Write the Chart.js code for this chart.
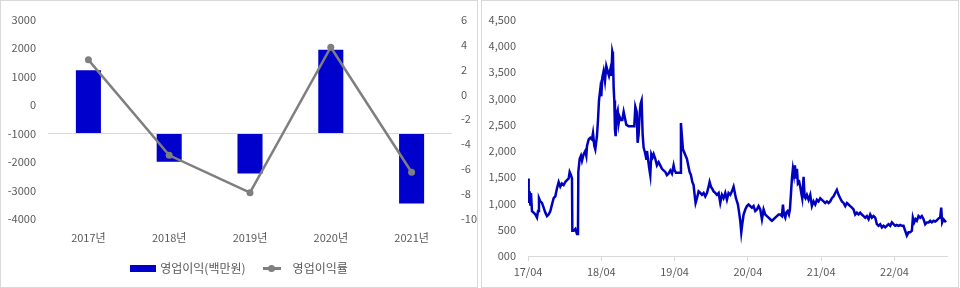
<!DOCTYPE html>
<html>
<head>
<meta charset="utf-8">
<script src="https://cdn.jsdelivr.net/npm/chart.js@4.4.1/dist/chart.umd.min.js"></script>
<style>
  body { margin: 0; background: #fff; width: 960px; height: 288px; overflow: hidden; font-family: 'Noto Sans CJK KR', sans-serif; }
  .panel { position: absolute; top: 0; width: 478px; height: 288px; box-sizing: border-box; border: 1px solid #d9d9d9; }
  .panel canvas { position: absolute; left: 0; top: 0; }
  #leftPanel { left: 0; }
  #rightPanel { left: 481px; }
  .legend { position: absolute; left: 0; top: 259px; width: 476px; display: flex; justify-content: center; align-items: center; font-size: 12px; color: #595959; line-height: 16px; }
  .legend .box { display: inline-block; width: 26px; height: 7px; background: #0000cc; margin-right: 4px; }
  .legend .ln { display: inline-block; position: relative; width: 18px; height: 8px; margin: 0 12px 0 17px; }
  .legend .ln::before { content: ''; position: absolute; left: 0; right: 0; top: 3px; height: 2.5px; background: #7f7f7f; }
  .legend .ln::after { content: ''; position: absolute; left: 5px; top: 0.5px; width: 7px; height: 7px; border-radius: 50%; background: #7f7f7f; }
</style>
</head>
<body>
<div class="panel" id="leftPanel">
  <canvas id="profitChart" width="476" height="286"></canvas>
  <div class="legend"><span class="box"></span><span>영업이익(백만원)</span><span class="ln"></span><span>영업이익률</span></div>
</div>
<div class="panel" id="rightPanel">
  <canvas id="priceChart" width="476" height="286"></canvas>
</div>
<script>
// left: operating profit (bars, from a -1000 baseline) and margin % (line)
const years = ['2017년', '2018년', '2019년', '2020년', '2021년'];
const operatingProfit = [1220, -1990, -2400, 1940, -3460];
const marginPct = [2.77, -4.89, -7.89, 3.78, -6.25];

// right: share price, x in months since 2017/04
const priceMonths = [
  0, 0.11, 0.27, 0.38, 0.49, 0.65, 0.93, 1.20, 1.47, 1.64, 1.80, 2.02, 2.29, 2.56, 2.84, 3.11, 3.38, 3.66, 3.93, 4.20,
  4.47, 4.75, 5.02, 5.29, 5.56, 5.84, 6.11, 6.38, 6.66, 6.82, 7.04, 7.20, 7.26, 7.47, 7.75, 8.02, 8.18, 8.24, 8.46, 8.67,
  8.84, 9.11, 9.38, 9.55, 9.66, 9.93, 10.20, 10.47, 10.64, 10.86, 11.02, 11.29, 11.46, 11.62, 11.84, 12.00, 12.17, 12.38, 12.60, 12.82,
  13.04, 13.26, 13.48, 13.64, 13.80, 13.91, 14.02, 14.13, 14.24, 14.35, 14.51, 14.68, 14.84, 15.00, 15.22, 15.44, 15.66, 15.88, 16.09, 16.48,
  17.02, 17.40, 17.57, 17.79, 17.95, 18.11, 18.28, 18.44, 18.60, 18.77, 18.93, 19.15, 19.37, 19.48, 19.64, 19.86, 20.02, 20.19, 20.40, 20.57,
  20.84, 21.11, 21.39, 21.66, 21.93, 22.20, 22.48, 22.75, 23.02, 23.30, 23.57, 23.84, 24.00, 24.22, 24.66, 24.93, 25.04, 25.20, 25.37, 25.59,
  25.80, 26.02, 26.24, 26.46, 26.68, 26.90, 27.11, 27.28, 27.44, 27.66, 27.93, 28.21, 28.48, 28.75, 29.02, 29.30, 29.57, 29.73, 29.95, 30.11,
  30.39, 30.66, 30.93, 31.21, 31.48, 31.75, 32.02, 32.30, 32.57, 32.84, 33.12, 33.39, 33.66, 33.82, 34.04, 34.21, 34.37, 34.53, 34.75, 34.92,
  35.08, 35.30, 35.57, 35.84, 36.12, 36.39, 36.66, 36.93, 37.21, 37.48, 37.75, 38.03, 38.30, 38.57, 38.84, 39.12, 39.39, 39.66, 39.93, 40.21,
  40.48, 40.75, 41.03, 41.30, 41.57, 41.74, 41.90, 42.12, 42.28, 42.50, 42.72, 42.88, 43.04, 43.21, 43.37, 43.54, 43.70, 43.86, 44.03, 44.19,
  44.41, 44.57, 44.74, 44.90, 45.12, 45.28, 45.44, 45.66, 45.94, 46.21, 46.48, 46.75, 47.03, 47.30, 47.57, 47.85, 48.12, 48.39, 48.66, 48.94,
  49.21, 49.48, 49.75, 50.03, 50.30, 50.57, 50.85, 51.12, 51.39, 51.66, 51.94, 52.21, 52.48, 52.76, 53.03, 53.30, 53.57, 53.85, 54.12, 54.39,
  54.66, 54.94, 55.21, 55.48, 55.76, 56.03, 56.30, 56.57, 56.85, 57.12, 57.39, 57.67, 57.94, 58.21, 58.48, 58.76, 59.03, 59.30, 59.57, 59.85,
  60.12, 60.39, 60.67, 60.94, 61.21, 61.48, 61.76, 62.03, 62.30, 62.57, 62.85, 63.01, 63.23, 63.45, 63.66, 63.94, 64.21, 64.48, 64.76, 65.03,
  65.30, 65.58, 65.85, 66.12, 66.39, 66.67, 66.94, 67.21, 67.48, 67.65, 67.81, 68.03, 68.25, 68.41,
];
const prices = [
  1475, 1010, 1230, 980, 1200, 855, 825, 790, 730, 855, 1100, 1040, 1010, 920, 825, 760, 790, 855, 980, 1100,
  1135, 1290, 1410, 1320, 1380, 1350, 1410, 1445, 1475, 1600, 1540, 1475, 480, 480, 515, 420, 420, 1600, 1850, 1910,
  1815, 1940, 2000, 1910, 2095, 2220, 2250, 2220, 2340, 2095, 2030, 2280, 2590, 2960, 3180, 3040, 3400, 3520, 3335, 3615,
  3520, 3430, 3550, 3430, 3890, 3830, 3210, 2960, 2400, 2280, 2710, 2775, 2530, 2650, 2590, 2590, 2745, 2620, 2500, 2470,
  2470, 2470, 2840, 2745, 2155, 2310, 2710, 2900, 2960, 2310, 2065, 1970, 1850, 2000, 1850, 1660, 1540, 1940, 1880, 1940,
  1850, 1725, 1785, 1725, 1660, 1630, 1600, 1540, 1570, 1630, 1570, 1725, 1630, 1585, 1585, 1585, 2530, 2280, 2030, 1970,
  1910, 1850, 1725, 1600, 1540, 1410, 1350, 1165, 1010, 1100, 1230, 1200, 1165, 1200, 1135, 1200, 1320, 1410, 1320, 1290,
  1230, 1200, 1165, 1200, 1010, 1165, 1100, 1200, 1070, 1200, 1165, 1230, 1320, 1230, 1100, 1040, 980, 855, 670, 450,
  605, 790, 885, 950, 980, 950, 920, 950, 855, 885, 950, 885, 700, 885, 790, 760, 730, 700, 670, 700,
  730, 760, 790, 790, 760, 980, 790, 730, 825, 855, 790, 885, 1165, 1475, 1660, 1540, 1725, 1475, 1660, 1380,
  1410, 1320, 1200, 1100, 1505, 1135, 1100, 1165, 1070, 1165, 950, 1040, 980, 1070, 1040, 1100, 1070, 1040, 1010, 1040,
  1010, 1040, 1100, 1135, 1200, 1260, 1165, 1100, 1040, 1010, 950, 1010, 980, 950, 920, 885, 790, 825, 790, 825,
  790, 760, 730, 760, 700, 790, 730, 760, 730, 605, 575, 605, 545, 575, 545, 575, 605, 575, 640, 605,
  575, 590, 575, 590, 575, 575, 480, 390, 450, 450, 480, 730, 640, 700, 670, 760, 730, 760, 700, 605,
  640, 640, 670, 640, 670, 655, 680, 715, 730, 920, 640, 700, 670, 640,
];
const priceTicks = [0, 12, 24, 36, 48, 60];

const TEXT = '#595959';
const AXIS = '#d9d9d9';
const FONT = { family: "'Noto Sans CJK KR', sans-serif", size: 11 };

new Chart(document.getElementById('profitChart'), {
  data: {
    labels: years,
    datasets: [
      {
        type: 'line', label: '영업이익률', data: marginPct, yAxisID: 'y1', order: 0,
        borderColor: '#7f7f7f', backgroundColor: '#7f7f7f', borderWidth: 2.5,
        pointRadius: 3.5, pointBackgroundColor: '#7f7f7f', pointBorderWidth: 0, tension: 0,
      },
      {
        type: 'bar', label: '영업이익(백만원)', data: operatingProfit, yAxisID: 'y', order: 1,
        base: -1000, backgroundColor: '#0000cc', categoryPercentage: 1, barPercentage: 0.31,
      },
    ],
  },
  options: {
    responsive: false,
    animation: false,
    layout: { padding: { top: 13, right: 0, bottom: 38, left: 0 } },
    plugins: { legend: { display: false }, tooltip: { enabled: false } },
    scales: {
      x: {
        grid: { display: false, drawTicks: false }, border: { display: false },
        ticks: { font: FONT, color: TEXT, padding: 12, maxRotation: 0 },
        afterFit: s => { s.height = 30; },
      },
      y: {
        position: 'left', min: -4000, max: 3000,
        ticks: { stepSize: 1000, font: FONT, color: TEXT, padding: 12, callback: v => String(v) },
        grid: { drawTicks: false, color: c => (c.tick && c.tick.value === -1000 ? AXIS : 'rgba(0,0,0,0)') },
        border: { display: false },
        afterFit: s => { s.width = 47; },
      },
      y1: {
        position: 'right', min: -10, max: 6,
        ticks: { stepSize: 2, font: FONT, color: TEXT, padding: 9, callback: v => String(v) },
        grid: { display: false, drawTicks: false }, border: { display: false },
        afterFit: s => { s.width = 25; },
      },
    },
  },
});

new Chart(document.getElementById('priceChart'), {
  type: 'line',
  data: {
    datasets: [{
      label: 'price',
      data: priceMonths.map((m, i) => ({ x: m, y: prices[i] })),
      borderColor: '#0000bf', borderWidth: 2.5, pointRadius: 0, tension: 0,
    }],
  },
  options: {
    responsive: false,
    animation: false,
    layout: { padding: { top: 13, right: 11, bottom: 0, left: 0 } },
    plugins: { legend: { display: false }, tooltip: { enabled: false } },
    scales: {
      x: {
        type: 'linear', min: 0, max: 68.6,
        afterBuildTicks: s => { s.ticks = priceTicks.map(v => ({ value: v })); },
        ticks: { font: FONT, color: TEXT, padding: 4, maxRotation: 0, autoSkip: false,
                 callback: v => `${17 + v / 12}/04` },
        grid: { drawOnChartArea: false, tickLength: 5, color: AXIS },
        border: { color: AXIS },
        afterFit: s => { s.height = 31; },
      },
      y: {
        min: 0, max: 4500,
        ticks: { stepSize: 500, font: FONT, color: TEXT, padding: 12,
                 callback: v => (v === 0 ? '000' : v.toLocaleString('en-US')) },
        grid: { display: false, drawTicks: false }, border: { display: false },
        afterFit: s => { s.width = 46; },
      },
    },
  },
});
</script>
</body>
</html>
